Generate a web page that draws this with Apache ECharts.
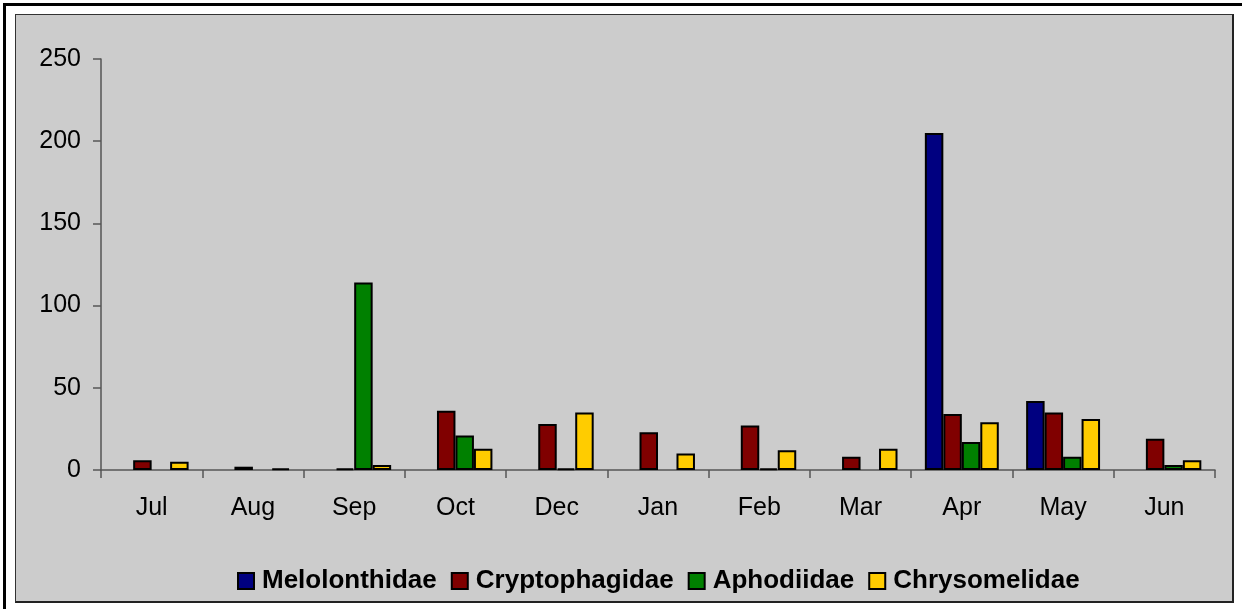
<!DOCTYPE html>
<html>
<head>
<meta charset="utf-8">
<script src="https://cdn.jsdelivr.net/npm/echarts@6/dist/echarts.min.js"></script>
<style>
    html, body { margin: 0; padding: 0; background: #fff; }
    #edgeTop { position: absolute; left: 3px; top: 3px; width: 1239px; height: 3px; background: #000; }
    #edgeLeft { position: absolute; left: 3px; top: 3px; width: 3px; height: 606px; background: #000; }
    #box {
        position: absolute; left: 15px; top: 14px; width: 1216px; height: 586px;
        background: #cccccc;
        border-left: 1px solid #333; border-top: 1px solid #333;
        border-right: 2px solid #222; border-bottom: 2px solid #222;
    }
    #chart { position: absolute; left: 0; top: 0; width: 1242px; height: 609px; }
</style>
</head>
<body>
<div id="edgeTop"></div>
<div id="edgeLeft"></div>
<div id="box"></div>
<div id="chart"></div>
<script>
// months on the x axis
const months = ['Jul', 'Aug', 'Sep', 'Oct', 'Dec', 'Jan', 'Feb', 'Mar', 'Apr', 'May', 'Jun'];
// counts per family
const melolonthidae  = [0, 0, 0, 0, 0, 0, 0, 0, 205, 42, 0];
const cryptophagidae = [6, 2, 1, 36, 28, 23, 27, 8, 34, 35, 19];
const aphodiidae     = [0, 0, 114, 21, 1, 0, 1, 0, 17, 8, 3];
const chrysomelidae  = [5, 1, 3, 13, 35, 10, 12, 13, 29, 31, 6];
const yTicks = [0, 50, 100, 150, 200, 250];

const font = 'Arial, "Liberation Sans", sans-serif';

function barSeries(name, values, color) {
    return {
        name: name,
        type: 'bar',
        barGap: '0%',
        barCategoryGap: '27%',
        // zero counts draw nothing, like the original
        data: values.map(v => v === 0 ? '-' : v),
        itemStyle: { color: color, borderColor: '#000', borderWidth: 2 },
        emphasis: { disabled: true }
    };
}

const chart = echarts.init(document.getElementById('chart'));
chart.setOption({
    animation: false,
    textStyle: { fontFamily: font },
    grid: { left: 101, right: 27, top: 59, bottom: 139, containLabel: false },
    legend: {
        left: 232,
        top: 563,
        icon: 'rect',
        itemWidth: 16,
        itemHeight: 16,
        itemGap: 14,
        textStyle: { fontFamily: font, fontSize: 26, fontWeight: 'bold', color: '#000', padding: [0, 0, 0, 3] },
        data: ['Melolonthidae', 'Cryptophagidae', 'Aphodiidae', 'Chrysomelidae']
    },
    xAxis: {
        type: 'category',
        data: months,
        axisLine: { lineStyle: { color: '#555', width: 1.5 } },
        axisTick: { show: true, length: 8, lineStyle: { color: '#555', width: 1.5 } },
        axisLabel: { color: '#000', fontSize: 25, margin: 26, fontFamily: font },
        splitLine: { show: false }
    },
    yAxis: {
        type: 'value',
        min: yTicks[0],
        max: yTicks[yTicks.length - 1],
        interval: yTicks[1] - yTicks[0],
        axisLine: { show: true, lineStyle: { color: '#555', width: 1.5 } },
        axisTick: { show: true, length: 8, lineStyle: { color: '#555', width: 1.5 } },
        axisLabel: { color: '#000', fontSize: 25, margin: 20, fontFamily: font },
        splitLine: { show: false }
    },
    series: [
        barSeries('Melolonthidae', melolonthidae, '#000080'),
        barSeries('Cryptophagidae', cryptophagidae, '#800000'),
        barSeries('Aphodiidae', aphodiidae, '#008000'),
        barSeries('Chrysomelidae', chrysomelidae, '#ffcc00')
    ]
});
</script>
</body>
</html>
